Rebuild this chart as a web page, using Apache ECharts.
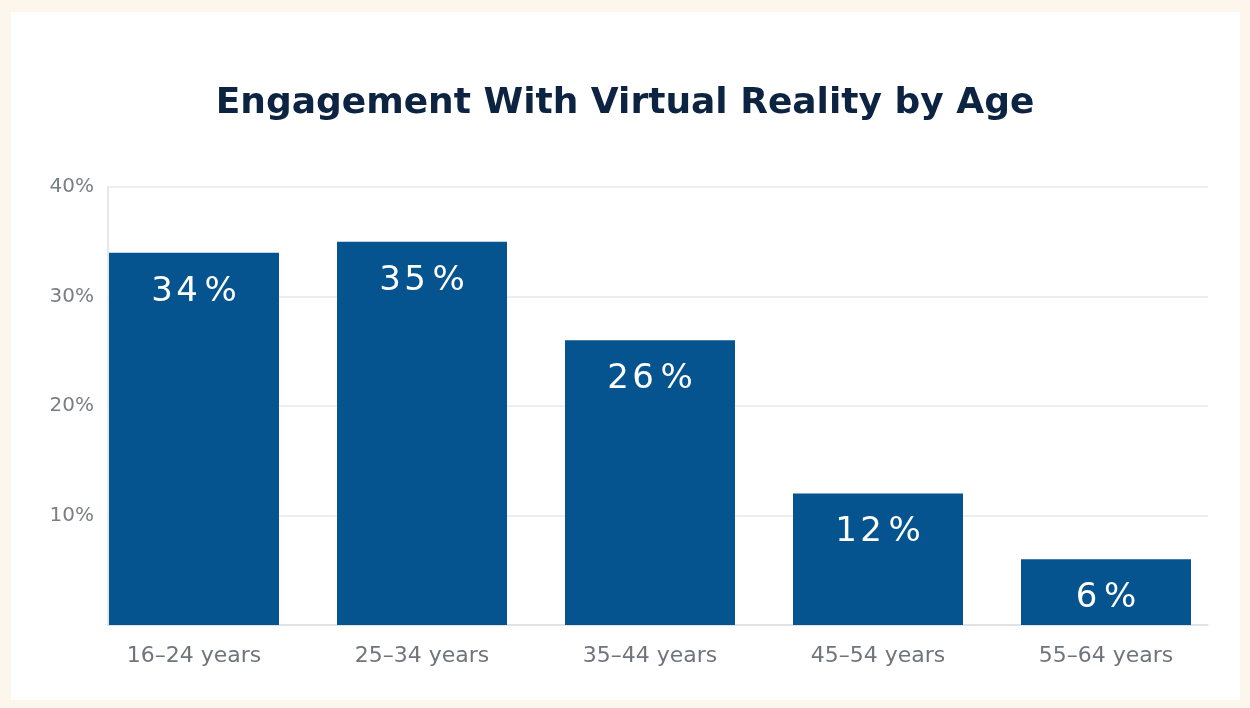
<!DOCTYPE html>
<html><head><meta charset="utf-8">
<script src="https://cdn.jsdelivr.net/npm/echarts@6/dist/echarts.min.js"></script>
<style>
html,body{margin:0;padding:0;background:#fdf6ec;}
#card{position:absolute;left:11px;top:12px;width:1229px;height:688px;background:#ffffff;}
#chart{position:absolute;left:0;top:0;width:1250px;height:708px;}
</style></head>
<body>
<div id="card"></div>
<div id="chart"></div>
<script>
const title = 'Engagement With Virtual Reality by Age';
const categories = ['16–24 years', '25–34 years', '35–44 years', '45–54 years', '55–64 years'];
const values = [34, 35, 26, 12, 6];
const yTicks = [0, 10, 20, 30, 40];

const chart = echarts.init(document.getElementById('chart'), null, {renderer: 'canvas'});
chart.setOption({
  backgroundColor: 'transparent',
  animation: false,
  title: {
    text: title, left: 'center', top: 81,
    textStyle: {fontFamily: 'DejaVu Sans', fontWeight: 'bold', fontSize: 36, color: '#0d2342'}
  },
  grid: [
    {left: 80, right: 30, top: 187, bottom: 83},
    {left: 108, right: 42, top: 187, bottom: 83}
  ],
  xAxis: [
    {type: 'category', gridIndex: 0, data: categories,
     axisLine: {show: false}, axisTick: {show: false},
     axisLabel: {color: '#6f757c', fontSize: 22, fontFamily: 'DejaVu Sans', margin: 20}},
    {type: 'category', gridIndex: 1, data: categories,
     axisLine: {show: true, lineStyle: {color: '#dcdfe2', width: 1.5}}, axisTick: {show: false},
     axisLabel: {show: false}}
  ],
  yAxis: [
    {type: 'value', gridIndex: 0, min: yTicks[0], max: yTicks[yTicks.length - 1], interval: 10, show: false},
    {type: 'value', gridIndex: 1, min: yTicks[0], max: yTicks[yTicks.length - 1], interval: 10,
     axisLine: {show: true, lineStyle: {color: '#dcdfe2', width: 1.5}}, axisTick: {show: false},
     splitLine: {show: true, lineStyle: {color: '#e6e8ea', width: 1.5}},
     axisLabel: {color: '#7a7f85', fontSize: 20, fontFamily: 'DejaVu Sans', margin: 14,
       formatter: v => v === 0 ? '' : v + '%'}}
  ],
  series: [{
    type: 'bar', xAxisIndex: 0, yAxisIndex: 0, data: values, barWidth: 170,
    itemStyle: {color: '#05538f'},
    label: {show: true, position: 'insideTop', distance: 22, color: '#ffffff',
      fontSize: 34, fontFamily: 'DejaVu Sans',
      formatter: p => String(p.value).split('').join('\u200A') + '\u2009%'}
  }]
});
</script>
</body></html>
